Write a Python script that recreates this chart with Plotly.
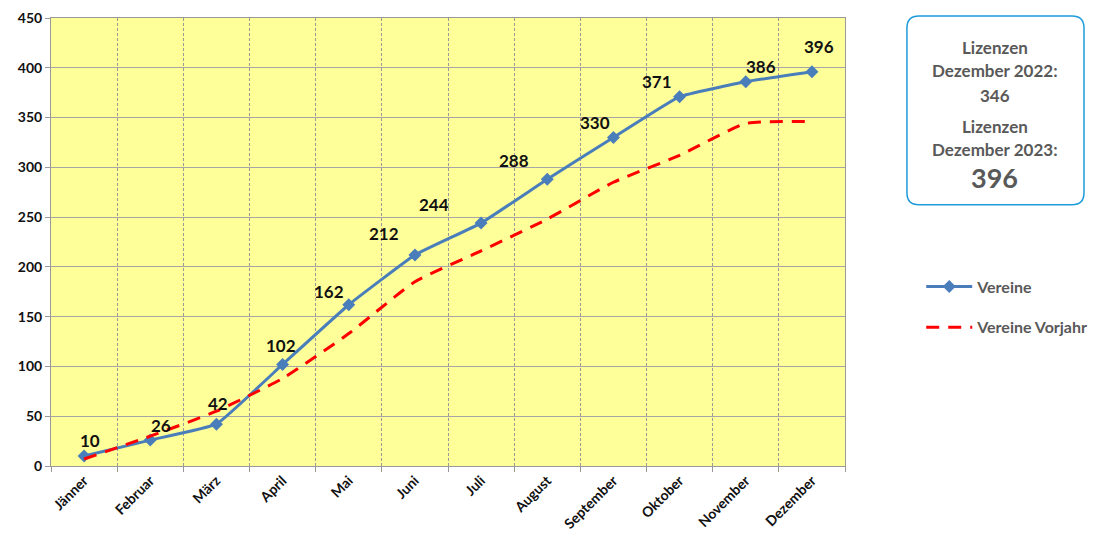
import plotly.graph_objects as go

months = ["Jänner", "Februar", "März", "April", "Mai", "Juni", "Juli",
          "August", "September", "Oktober", "November", "Dezember"]
vereine = [10, 26, 42, 102, 162, 212, 244, 288, 330, 371, 386, 396]
vorjahr = [7, 30, 55, 88, 133, 185, 216, 248, 285, 312, 344, 346]

# label offsets (pixels) relative to each data point
label_dx = [6, 11, 2, -2, -20, -31, -47, -33, -18, -23, 15, 7]
label_dy = [16, 15, 21, 19, 13, 21, 19, 19, 15, 15, 15, 25]

FONT = "Lato"

fig = go.Figure()
fig.add_trace(go.Scatter(
    x=months, y=vereine, name="Vereine", mode="lines+markers",
    line=dict(color="#4A7EBB", width=3, shape="spline", smoothing=0.3),
    marker=dict(symbol="diamond", size=10, color="#4A7EBB"),
    legendgroup="a",
))
fig.add_trace(go.Scatter(
    x=months, y=vorjahr, name="Vereine Vorjahr", mode="lines",
    line=dict(color="#FF0000", width=3, dash="13px,9px", shape="spline", smoothing=0.5),
    legendgroup="b",
))

for m, v, dx, dy in zip(months, vereine, label_dx, label_dy):
    fig.add_annotation(x=m, y=v, text=str(v), showarrow=False,
                       xshift=dx, yshift=dy,
                       font=dict(family=FONT, size=17, color="#111111", weight="bold"))

# info box
x0, x1, y0, y1 = 1.078, 1.301, 0.583, 1.0045
rx, ry = 0.0151, 0.0268
path = (f"M {x0+rx},{y1} L {x1-rx},{y1} Q {x1},{y1} {x1},{y1-ry} "
        f"L {x1},{y0+ry} Q {x1},{y0} {x1-rx},{y0} L {x0+rx},{y0} "
        f"Q {x0},{y0} {x0},{y0+ry} L {x0},{y1-ry} Q {x0},{y1} {x0+rx},{y1} Z")
fig.add_shape(type="path", path=path, xref="paper", yref="paper",
              line=dict(color="#1E9BDB", width=1.5), fillcolor="white", layer="above")

grey = "#595959"
box_lines = [("Lizenzen", 47, 17), ("Dezember 2022:", 71, 17), ("346", 95, 17),
             ("Lizenzen", 126, 17), ("Dezember 2023:", 149, 17), ("396", 178, 27)]
for txt, py, sz in box_lines:
    fig.add_annotation(x=(995 - 51) / 794, y=(466 - py) / 448, xref="paper", yref="paper",
                       text=txt, showarrow=False, xanchor="center", yanchor="middle",
                       font=dict(family=FONT, size=sz, color=grey, weight="bold"))

fig.update_layout(
    width=1088, height=530,
    margin=dict(l=43, r=251, t=10, b=72, autoexpand=False),
    paper_bgcolor="white", plot_bgcolor="#FFFF99",
    font=dict(family=FONT, color="#111111"),
    showlegend=True,
    legend=dict(x=1.096, y=0.4386, xanchor="left", yanchor="top",
                bgcolor="rgba(0,0,0,0)", traceorder="grouped", tracegroupgap=17,
                font=dict(family=FONT, size=16, color=grey, weight="bold"),
                itemwidth=46),
)
fig.update_xaxes(
    type="category", range=[-0.5, 11.5], tickson="boundaries", automargin=False,
    showgrid=True, gridcolor="#999999", gridwidth=1, griddash="3px,2px",
    ticks="outside", ticklen=5, tickcolor="#999999",
    showline=True, linecolor="#999999", linewidth=1, mirror=True,
    tickangle=-45, tickfont=dict(family=FONT, size=14, color="#111111", weight="bold"),
)
fig.update_yaxes(
    range=[0, 450], dtick=50, showgrid=True, gridcolor="#A6A6A6", gridwidth=1, automargin=False,
    ticks="outside", ticklen=5, tickcolor="#999999",
    showline=True, linecolor="#999999", linewidth=1, mirror=True, zeroline=False,
    tickfont=dict(family=FONT, size=14, color="#111111", weight="bold"),
)

fig.write_html("out.html")
